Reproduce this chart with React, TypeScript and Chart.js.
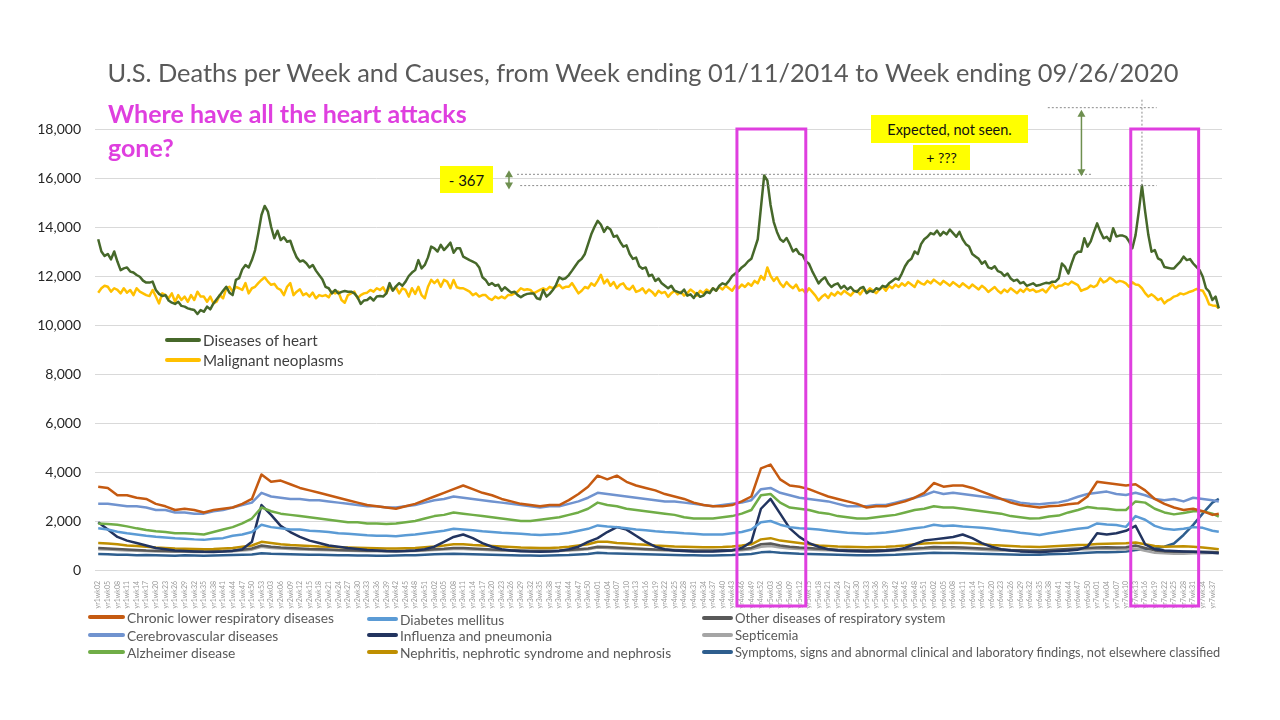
import React, { useEffect, useRef } from 'react';
import { Chart, registerables } from 'chart.js';

Chart.register(...registerables);

// ---------- tick labels (one every 3 weeks, MMWR weeks; yr1 = 2014 ... yr7 = 2020) ----------
const YEAR_WEEKS = [53, 52, 52, 52, 52, 52, 53];
const TICK_LABELS: string[] = [];
{
  let yr = 0;
  let wk = 2;
  for (let i = 0; i < 117; i++) {
    TICK_LABELS.push(`yr${yr + 1}wk${String(wk).padStart(2, '0')}`);
    wk += 3;
    while (yr < YEAR_WEEKS.length && wk > YEAR_WEEKS[yr]) {
      wk -= YEAR_WEEKS[yr];
      yr++;
    }
  }
}
const TICK_WEEKS = TICK_LABELS.map((_, i) => i * 3);

// ---------- weekly series (week index 0 = week ending 01/11/2014) ----------
const HEART = [
  13500, 13000, 12820, 12900, 12680, 13000, 12590, 12240, 12310, 12350,
  12180, 12140, 12040, 11970, 11810, 11730, 11730, 11770, 11430, 11270,
  11180, 11220, 11000, 10910, 10860, 10950, 10780, 10750, 10680, 10640,
  10610, 10450, 10610, 10540, 10750, 10640, 10880, 11050, 11220, 11400,
  11560, 11320, 11220, 11840, 11910, 12270, 12450, 12350, 12650, 13060,
  13740, 14490, 14860, 14630, 14010, 13540, 13850, 13470, 13580, 13400,
  13440, 13060, 12760, 12590, 12630, 12520, 12350, 12450, 12220, 12040,
  11870, 11560, 11500, 11290, 11430, 11290, 11350, 11390, 11360, 11360,
  11290, 11130, 10860, 11000, 11020, 11130, 11000, 11160, 11180, 11160,
  11290, 11710, 11400, 11580, 11710, 11600, 11770, 12000, 12140, 12240,
  12650, 12310, 12450, 12760, 13200, 13130, 13000, 13270, 13060, 13200,
  13360, 12950, 13130, 13130, 12790, 12720, 12650, 12590, 12520, 12350,
  11950, 11840, 11640, 11710, 11600, 11640, 11400, 11540, 11430, 11320,
  11360, 11220, 11130, 11220, 11270, 11290, 11290, 11090, 11050, 11430,
  11160, 11270, 11430, 11640, 11950, 11870, 11910, 12040, 12220, 12410,
  12590, 12700, 12900, 13300, 13700, 14000, 14250, 14100, 13800, 14000,
  13900, 13600, 13650, 13400, 13200, 13250, 12900, 12700, 12750, 12400,
  12300, 12350, 12000, 12050, 11800, 11900, 11700, 11600, 11500, 11600,
  11400, 11350, 11300, 11450, 11200, 11250, 11100, 11300, 11150, 11200,
  11350, 11300, 11500, 11400, 11600, 11700, 11650, 11800, 12000, 12100,
  12200, 12350, 12450, 12600, 12700, 13100, 13500, 14800, 16100, 15900,
  14900, 14200, 13800, 13500, 13400, 13550, 13300, 13000, 13100, 12900,
  12850, 12600, 12500, 12200, 11950, 11700, 11850, 11950, 11700, 11550,
  11650, 11700, 11500, 11600, 11450, 11550, 11400, 11350, 11500, 11550,
  11300, 11400, 11350, 11500, 11450, 11600, 11550, 11700, 11800, 11900,
  11850, 12100, 12400, 12600, 12700, 13000, 12900, 13300, 13500, 13600,
  13750, 13700, 13850, 13650, 13800, 13700, 13900, 13750, 13600, 13800,
  13500, 13300, 13200, 12900, 12800, 12700, 12500, 12600, 12350, 12300,
  12400, 12200, 12150, 12000, 12100, 11900, 11800, 11850, 11700, 11750,
  11600, 11650, 11700, 11600, 11630, 11680, 11720, 11700, 11770, 11770,
  11900, 12510, 12370, 12100, 12500, 12860, 12990, 12990, 13540, 13200,
  13410, 13800, 14150, 13810, 13540, 13600, 13430, 13950, 13610, 13650,
  13650, 13600, 13410, 13130, 13670, 14630, 15690, 14630, 13670, 12990,
  13060, 12720, 12650, 12370, 12340, 12310, 12310, 12450, 12590, 12790,
  12650, 12690, 12510, 12370, 12240, 11970, 11500, 11360, 11020, 11160,
  10680,
];

const NEOPLASMS = [
  11320, 11500, 11600, 11560, 11360, 11500, 11430, 11290, 11500, 11320,
  11430, 11220, 11500, 11360, 11290, 11220, 11180, 11430, 11160, 10880,
  11290, 11220, 11090, 11290, 10950, 11220, 11020, 11160, 10950, 11220,
  11020, 11360, 11160, 11160, 10950, 11160, 10880, 10950, 11220, 11090,
  11500, 11560, 11360, 11560, 11500, 11430, 11710, 11290, 11500, 11560,
  11710, 11840, 11950, 11770, 11640, 11680, 11500, 11430, 11220, 11560,
  11710, 11220, 11360, 11460, 11220, 11290, 11160, 11320, 11090, 11220,
  11180, 11220, 11130, 11360, 11290, 11360, 11020, 10910, 11220, 11290,
  11360, 11090, 11220, 11290, 11320, 11430, 11360, 11500, 11430, 11540,
  11290, 11560, 11430, 11540, 11290, 11500, 11430, 11160, 11500, 11270,
  11560, 11220, 11090, 11560, 11840, 11710, 11840, 11560, 11840, 11770,
  11500, 11840, 11540, 11500, 11500, 11430, 11360, 11220, 11290, 11160,
  11220, 11220, 11090, 11020, 11160, 11090, 11160, 11090, 11220, 11220,
  11290, 11360, 11500, 11430, 11460, 11430, 11290, 11360, 11430, 11500,
  11430, 11560, 11500, 11560, 11640, 11500, 11560, 11560, 11710, 11500,
  11290, 11400, 11550, 11500, 11700, 11600, 11800, 12050, 11700, 11850,
  11600, 11750, 11500, 11650, 11700, 11500, 11450, 11600, 11350, 11400,
  11500, 11300, 11450, 11350, 11200, 11400, 11300, 11350, 11150, 11300,
  11400, 11250, 11350, 11200, 11300, 11450, 11350, 11200, 11400, 11300,
  11450, 11350, 11500, 11400, 11550, 11450, 11600, 11500, 11400, 11600,
  11500, 11650, 11550, 11700, 11600, 11800, 11700, 12000, 11850, 12350,
  12000, 11800, 11950, 11700, 11550, 11750, 11600, 11500, 11650, 11400,
  11450, 11300, 11500, 11350, 11200, 11000, 11150, 11250, 11100, 11300,
  11200, 11350, 11250, 11400, 11300, 11200, 11350, 11400, 11250, 11450,
  11350, 11500, 11400, 11300, 11450, 11550, 11400, 11600, 11500, 11650,
  11550, 11700, 11600, 11750, 11650, 11550, 11800, 11700, 11650, 11800,
  11700, 11850, 11750, 11650, 11800, 11700, 11600, 11750, 11650, 11550,
  11700, 11600, 11500, 11650, 11550, 11450, 11600, 11500, 11350, 11450,
  11550, 11400, 11300, 11450, 11350, 11500, 11400, 11300, 11450, 11350,
  11500, 11400, 11450, 11350, 11390, 11450, 11330, 11500, 11660, 11500,
  11600, 11610, 11700, 11650, 11770, 11700, 11630, 11390, 11450, 11500,
  11610, 11550, 11630, 11900, 11740, 11800, 11930, 11850, 11740, 11800,
  11770, 11700, 11560, 11740, 11650, 11630, 11500, 11300, 11160, 11250,
  11150, 11020, 11090, 10880, 11000, 11060, 11160, 11200, 11290, 11250,
  11300, 11360, 11400, 11470, 11430, 11400, 11160, 10840, 10800, 10790,
  10680,
];

// ---------- 3-weekly series (at the tick weeks, plus the last week) ----------
const CLRD = [
  3400, 3350, 3050, 3050, 2950, 2900, 2700, 2600, 2450, 2500,
  2450, 2350, 2450, 2500, 2550, 2700, 2900, 3900, 3600, 3650,
  3500, 3350, 3250, 3150, 3050, 2950, 2850, 2750, 2650, 2600,
  2550, 2500, 2600, 2700, 2850, 3000, 3150, 3300, 3450, 3300,
  3150, 3050, 2900, 2800, 2700, 2650, 2600, 2650, 2650, 2850,
  3100, 3400, 3850, 3700, 3850, 3600, 3450, 3350, 3250, 3100,
  3000, 2900, 2750, 2650, 2600, 2600, 2650, 2800, 3000, 4150,
  4300, 3700, 3450, 3400, 3300, 3150, 3000, 2900, 2800, 2700,
  2550, 2600, 2600, 2700, 2800, 2950, 3150, 3550, 3400, 3450,
  3450, 3350, 3200, 3050, 2900, 2750, 2650, 2600, 2550, 2600,
  2620, 2680, 2720, 3000, 3600, 3550, 3500, 3450, 3500, 3250,
  2900, 2700, 2550, 2450, 2500, 2400, 2250, 2300,
];
const CEREBROVASCULAR = [
  2700, 2700, 2650, 2600, 2600, 2550, 2450, 2450, 2350, 2350,
  2300, 2300, 2400, 2450, 2550, 2650, 2750, 3150, 3000, 2950,
  2900, 2900, 2850, 2850, 2800, 2750, 2700, 2650, 2600, 2600,
  2550, 2550, 2600, 2650, 2750, 2850, 2900, 3000, 2950, 2900,
  2850, 2800, 2750, 2700, 2650, 2600, 2550, 2600, 2600, 2700,
  2800, 2950, 3150, 3100, 3050, 3000, 2950, 2900, 2850, 2800,
  2800, 2750, 2700, 2650, 2600, 2650, 2700, 2750, 2850, 3300,
  3350, 3150, 3050, 2950, 2900, 2850, 2800, 2700, 2600, 2600,
  2600, 2650, 2650, 2750, 2850, 2950, 3050, 3200, 3100, 3150,
  3100, 3050, 3000, 2950, 2900, 2850, 2750, 2700, 2680, 2720,
  2760, 2850, 2990, 3100, 3150, 3200, 3100, 3060, 3150, 3050,
  2900, 2850, 2900, 2800, 2950, 2900, 2850, 2800,
];
const ALZHEIMER = [
  1900, 1880, 1850, 1780, 1700, 1630, 1580, 1550, 1500, 1500,
  1480, 1450, 1550, 1650, 1750, 1900, 2100, 2550, 2400, 2300,
  2250, 2200, 2150, 2100, 2050, 2000, 1950, 1950, 1900, 1900,
  1880, 1900, 1950, 2000, 2100, 2200, 2250, 2350, 2300, 2250,
  2200, 2150, 2100, 2050, 2000, 2000, 2050, 2100, 2150, 2250,
  2350, 2500, 2750, 2650, 2600, 2500, 2450, 2400, 2350, 2300,
  2250, 2150, 2100, 2100, 2100, 2150, 2200, 2300, 2450, 3050,
  3100, 2750, 2550, 2500, 2450, 2350, 2300, 2200, 2150, 2100,
  2100, 2150, 2200, 2250, 2350, 2450, 2500, 2600, 2550, 2550,
  2500, 2450, 2400, 2350, 2300, 2200, 2150, 2100, 2110, 2180,
  2220, 2350, 2450, 2570, 2520, 2500, 2450, 2450, 2800, 2750,
  2500, 2350, 2270, 2330, 2400, 2400, 2300, 2180,
];
const DIABETES = [
  1700, 1650, 1560, 1500, 1450, 1400, 1360, 1330, 1300, 1280,
  1250, 1230, 1280, 1300, 1400, 1450, 1550, 1850, 1750, 1700,
  1650, 1650, 1600, 1580, 1550, 1500, 1480, 1450, 1420, 1400,
  1400, 1380, 1420, 1450, 1500, 1550, 1600, 1680, 1650, 1620,
  1580, 1550, 1520, 1500, 1480, 1450, 1430, 1450, 1470, 1520,
  1600, 1680, 1820, 1780, 1750, 1700, 1650, 1620, 1580, 1550,
  1530, 1500, 1480, 1450, 1450, 1450, 1500, 1550, 1650, 1950,
  2000, 1850, 1750, 1700, 1680, 1650, 1600, 1560, 1520, 1500,
  1480, 1500, 1530, 1580, 1640, 1700, 1750, 1850, 1800, 1820,
  1780, 1750, 1720, 1680, 1620, 1580, 1520, 1480, 1430, 1500,
  1560, 1620, 1680, 1720, 1900, 1860, 1840, 1760, 2200, 2050,
  1800, 1680, 1640, 1680, 1750, 1720, 1600, 1560,
];
const FLU_PNEUMONIA = [
  1950, 1650, 1350, 1200, 1100, 1000, 900, 850, 800, 780,
  760, 740, 730, 750, 780, 850, 1150, 2650, 2250, 1800,
  1550, 1350, 1200, 1100, 1000, 950, 900, 860, 820, 800,
  780, 770, 780, 800, 850, 950, 1150, 1350, 1450, 1300,
  1100, 950, 850, 800, 770, 750, 740, 750, 780, 850,
  950, 1150, 1300, 1550, 1750, 1650, 1400, 1150, 950, 850,
  800, 780, 760, 750, 760, 780, 800, 900, 1150, 2500,
  2900, 2300, 1700, 1350, 1100, 950, 850, 800, 780, 770,
  760, 770, 790, 820, 900, 1050, 1200, 1250, 1300, 1350,
  1450, 1300, 1100, 950, 850, 800, 760, 740, 720, 750,
  780, 800, 830, 950, 1500, 1450, 1500, 1600, 1800, 1050,
  850, 800, 780, 760, 740, 720, 700, 680,
];
const NEPHRITIS = [
  1100, 1080, 1050, 1000, 980, 950, 920, 900, 880, 870,
  860, 850, 860, 880, 900, 950, 1000, 1150, 1100, 1050,
  1020, 1000, 980, 960, 950, 930, 920, 910, 900, 890,
  880, 880, 890, 900, 930, 960, 1000, 1050, 1050, 1020,
  1000, 980, 960, 940, 920, 910, 900, 900, 920, 950,
  1000, 1050, 1150, 1150, 1100, 1080, 1050, 1030, 1000, 980,
  960, 950, 940, 930, 930, 940, 960, 1000, 1050, 1250,
  1300, 1200, 1150, 1100, 1050, 1000, 980, 960, 950, 940,
  930, 940, 950, 970, 1000, 1050, 1080, 1100, 1100, 1110,
  1100, 1080, 1050, 1020, 1000, 980, 960, 950, 940, 960,
  980, 1000, 1020, 1030, 1060, 1070, 1080, 1090, 1120, 1050,
  980, 950, 960, 970, 950, 920, 880, 850,
];
const OTHER_RESPIRATORY = [
  900, 880, 860, 840, 820, 800, 790, 780, 770, 770,
  760, 760, 770, 780, 800, 830, 880, 1000, 950, 920,
  900, 880, 860, 850, 840, 820, 810, 800, 790, 790,
  780, 780, 790, 800, 820, 850, 870, 900, 900, 880,
  860, 840, 820, 810, 800, 790, 790, 790, 800, 820,
  850, 880, 950, 940, 920, 900, 880, 860, 840, 830,
  820, 810, 800, 800, 800, 810, 820, 850, 900, 1050,
  1080, 1000, 950, 920, 900, 870, 850, 830, 820, 810,
  800, 810, 820, 840, 860, 890, 910, 940, 930, 930,
  920, 900, 880, 860, 840, 820, 810, 800, 800, 820,
  840, 860, 880, 900, 920, 930, 920, 930, 1000, 900,
  800, 760, 740, 740, 750, 740, 730, 720,
];
const SEPTICEMIA = [
  850, 840, 820, 800, 790, 780, 760, 750, 740, 740,
  730, 730, 740, 750, 770, 800, 830, 950, 900, 880,
  860, 840, 830, 820, 810, 800, 790, 780, 770, 770,
  760, 760, 770, 780, 800, 820, 840, 860, 860, 840,
  830, 810, 800, 790, 780, 770, 770, 770, 780, 800,
  820, 850, 920, 900, 880, 860, 850, 830, 820, 800,
  790, 780, 770, 770, 770, 780, 790, 810, 850, 950,
  980, 920, 880, 860, 840, 820, 810, 790, 780, 770,
  760, 770, 780, 800, 820, 840, 860, 880, 870, 870,
  860, 850, 830, 810, 800, 790, 780, 770, 770, 780,
  800, 820, 840, 850, 860, 860, 850, 850, 880, 780,
  700, 680, 660, 660, 680, 680, 690, 690,
];
const SYMPTOMS = [
  650, 640, 620, 620, 600, 610, 600, 590, 580, 600,
  590, 580, 590, 600, 610, 620, 630, 680, 660, 650,
  640, 630, 620, 620, 610, 600, 600, 590, 590, 580,
  580, 590, 600, 600, 620, 640, 650, 660, 650, 640,
  630, 620, 610, 600, 590, 590, 580, 590, 600, 610,
  630, 650, 700, 680, 670, 660, 650, 640, 630, 620,
  610, 600, 600, 590, 590, 600, 610, 630, 650, 720,
  740, 700, 680, 660, 650, 640, 630, 620, 610, 600,
  600, 600, 610, 620, 640, 660, 680, 700, 690, 690,
  680, 670, 660, 650, 640, 630, 620, 620, 620, 640,
  650, 660, 680, 700, 720, 720, 730, 750, 820, 850,
  880, 950, 1080, 1430, 1840, 2310, 2750, 2900,
];
const LAST_WEEK = HEART.length - 1;
const LOW_RES_WEEKS = [...TICK_WEEKS, LAST_WEEK];

// ---------- annotation anchors (weeks / values) ----------
const PEAK_2018 = 16150;
const PEAK_2020 = 15690;
const EXPECTED = 18870;
const BOX1 = [199.5, 221];
const BOX2 = [322.5, 343.7];

const MAGENTA = '#DF3FDF';
const ARROW_GREEN = '#6E8F4F';
const FONT = 'Lato, "Open Sans", sans-serif';

type SeriesDef = { label: string; color: string; data: number[]; weekly?: boolean; width?: number };

const SERIES: SeriesDef[] = [
  { label: 'Diseases of heart', color: '#46682A', data: HEART, weekly: true, width: 2.5 },
  { label: 'Malignant neoplasms', color: '#FFC000', data: NEOPLASMS, weekly: true, width: 2.5 },
  { label: 'Chronic lower respiratory diseases', color: '#C55A11', data: CLRD },
  { label: 'Cerebrovascular diseases', color: '#7093CF', data: CEREBROVASCULAR },
  { label: 'Alzheimer disease', color: '#70AD47', data: ALZHEIMER },
  { label: 'Diabetes mellitus', color: '#5B9BD5', data: DIABETES },
  { label: 'Influenza and pneumonia', color: '#22345F', data: FLU_PNEUMONIA },
  { label: 'Nephritis, nephrotic syndrome and nephrosis', color: '#BF8F00', data: NEPHRITIS },
  { label: 'Other diseases of respiratory system', color: '#595959', data: OTHER_RESPIRATORY },
  { label: 'Septicemia', color: '#A5A5A5', data: SEPTICEMIA },
  { label: 'Symptoms, signs and abnormal clinical and laboratory findings, not elsewhere classified', color: '#2E5E8E', data: SYMPTOMS },
];

const overlayPlugin = {
  id: 'overlayAnnotations',
  afterDraw(chart: any) {
    const { ctx, chartArea } = chart;
    const xs = chart.scales.x;
    const ys = chart.scales.y;
    const px = (w: number) => xs.getPixelForValue(w);
    const py = (v: number) => ys.getPixelForValue(v);
    const seg = (x1: number, y1: number, x2: number, y2: number) => {
      ctx.beginPath();
      ctx.moveTo(x1, y1);
      ctx.lineTo(x2, y2);
      ctx.stroke();
    };
    ctx.save();
    // dotted guide lines
    ctx.strokeStyle = '#8c8c8c';
    ctx.lineWidth = 1;
    ctx.setLineDash([2, 2]);
    seg(px(130.8), py(PEAK_2018), px(310.6), py(PEAK_2018));
    seg(px(131.8), py(PEAK_2020), px(330.6), py(PEAK_2020));
    seg(px(296.6), py(EXPECTED), px(330.6), py(EXPECTED));
    seg(px(326), py(EXPECTED) - 8, px(326), py(PEAK_2020));
    ctx.setLineDash([]);

    // double arrows
    const arrow = (x: number, yTop: number, yBot: number) => {
      ctx.strokeStyle = ARROW_GREEN;
      ctx.fillStyle = ARROW_GREEN;
      ctx.lineWidth = 1.5;
      seg(x, yTop + 5, x, yBot - 5);
      ctx.beginPath();
      ctx.moveTo(x, yTop);
      ctx.lineTo(x - 4, yTop + 7);
      ctx.lineTo(x + 4, yTop + 7);
      ctx.closePath();
      ctx.fill();
      ctx.beginPath();
      ctx.moveTo(x, yBot);
      ctx.lineTo(x - 4, yBot - 7);
      ctx.lineTo(x + 4, yBot - 7);
      ctx.closePath();
      ctx.fill();
    };
    arrow(px(128.3), py(PEAK_2018) - 4, py(PEAK_2020) + 4);
    arrow(px(307.1), py(EXPECTED) + 2, py(PEAK_2018) + 2);

    // magenta highlight boxes
    ctx.strokeStyle = MAGENTA;
    ctx.lineWidth = 3;
    const top = py(18000);
    const bottom = chartArea.bottom + 36;
    for (const [a, b] of [BOX1, BOX2]) {
      ctx.strokeRect(px(a), top, px(b) - px(a), bottom - top);
    }
    ctx.restore();
  },
};

function LegendItem({ x, y, color, label, swatch, textColor, size }: { x: number; y: number; color: string; label: string; swatch: number; textColor: string; size: number }) {
  return (
    <div style={{ position: 'absolute', left: x, top: y - 10, height: 20, display: 'flex', alignItems: 'center', whiteSpace: 'nowrap' }}>
      <span style={{ display: 'inline-block', width: swatch, height: 4, borderRadius: 2, background: color, marginRight: 2 }} />
      <span style={{ fontSize: size, color: textColor, fontFamily: FONT }}>{label}</span>
    </div>
  );
}

function YellowBox({ x, y, w, h, text, size }: { x: number; y: number; w: number; h: number; text: string; size: number }) {
  return (
    <div style={{ position: 'absolute', left: x, top: y, width: w, height: h, background: '#FFFF00', display: 'flex', alignItems: 'center', justifyContent: 'center', fontFamily: FONT, fontSize: size, color: '#111', whiteSpace: 'nowrap' }}>
      {text}
    </div>
  );
}

export default function App() {
  const canvasRef = useRef<HTMLCanvasElement | null>(null);

  useEffect(() => {
    if (!canvasRef.current) return;
    const datasets = SERIES.map((s) => ({
      label: s.label,
      data: s.data.map((v, i) => ({ x: s.weekly ? i : LOW_RES_WEEKS[i], y: v })),
      borderColor: s.color,
      backgroundColor: s.color,
      borderWidth: s.width ?? 2.5,
      pointRadius: 0,
      tension: 0,
      borderJoinStyle: 'round' as const,
      fill: false,
    }));
    const chart = new Chart(canvasRef.current, {
      type: 'line',
      data: { datasets },
      options: {
        responsive: false,
        animation: false,
        devicePixelRatio: 1,
        parsing: false as any,
        normalized: true,
        layout: { padding: { left: 0, top: 129, right: 58, bottom: 0 } },
        plugins: { legend: { display: false }, tooltip: { enabled: false }, title: { display: false } },
        scales: {
          x: {
            type: 'linear',
            min: -1,
            max: LAST_WEEK + 1,
            grid: { display: false },
            border: { display: true, color: '#d9d9d9' },
            afterBuildTicks: (scale: any) => {
              scale.ticks = TICK_WEEKS.map((v) => ({ value: v }));
            },
            afterFit: (scale: any) => {
              scale.height = 150;
            },
            ticks: {
              autoSkip: false,
              minRotation: 90,
              maxRotation: 90,
              padding: 3,
              color: '#9a9a9a',
              font: { family: FONT, size: 7 },
              callback: (_v: any, i: number) => TICK_LABELS[i],
            },
          },
          y: {
            min: 0,
            max: 18000,
            grid: { color: '#d9d9d9', drawTicks: false },
            border: { display: false },
            afterFit: (scale: any) => {
              scale.width = 95;
            },
            ticks: {
              stepSize: 2000,
              padding: 14,
              color: '#262626',
              font: { family: FONT, size: 14 },
              callback: (v: any) => Number(v).toLocaleString('en-US'),
            },
          },
        },
      },
      plugins: [overlayPlugin],
    } as any);
    return () => chart.destroy();
  }, []);

  const bottomLegend = [
    { x: 88, y: 617, sw: 37, i: 2, size: 13.8 },
    { x: 88, y: 635, sw: 37, i: 3, size: 13.8 },
    { x: 88, y: 652, sw: 37, i: 4, size: 13.8 },
    { x: 367, y: 619, sw: 31, i: 5, size: 13.8 },
    { x: 367, y: 635, sw: 31, i: 6, size: 13.8 },
    { x: 367, y: 652, sw: 31, i: 7, size: 13.8 },
    { x: 702, y: 618, sw: 31, i: 8, size: 13.2 },
    { x: 702, y: 635, sw: 31, i: 9, size: 13.2 },
    { x: 702, y: 652, sw: 31, i: 10, size: 12.8 },
  ];

  return (
    <div style={{ position: 'fixed', left: 0, top: 0, width: 1280, height: 720, background: '#ffffff', overflow: 'hidden', fontFamily: FONT }}>
      <canvas ref={canvasRef} width={1280} height={720} style={{ position: 'absolute', left: 0, top: 0, width: 1280, height: 720 }} />
      <div style={{ position: 'absolute', left: 0, top: 56, width: 1286, textAlign: 'center', fontSize: 25.4, lineHeight: '32px', color: '#595959', whiteSpace: 'nowrap' }}>
        U.S. Deaths per Week and Causes, from Week ending 01/11/2014 to Week ending 09/26/2020
      </div>
      <div style={{ position: 'absolute', left: 108, top: 96, fontSize: 25, lineHeight: '34px', fontWeight: 700, color: MAGENTA, width: 420 }}>
        Where have all the heart attacks<br />gone?
      </div>
      <YellowBox x={440} y={166} w={53} h={27} text="- 367" size={15} />
      <YellowBox x={871} y={115} w={157} h={28} text="Expected, not seen." size={14.5} />
      <YellowBox x={913} y={145} w={57} h={25} text="+ ???" size={14} />
      <LegendItem x={165} y={340} color={SERIES[0].color} label={SERIES[0].label} swatch={36} textColor="#404040" size={15.2} />
      <LegendItem x={165} y={360} color={SERIES[1].color} label={SERIES[1].label} swatch={36} textColor="#404040" size={15.2} />
      {bottomLegend.map((b) => (
        <LegendItem key={b.i} x={b.x} y={b.y} color={SERIES[b.i].color} label={SERIES[b.i].label} swatch={b.sw} textColor="#595959" size={b.size} />
      ))}
    </div>
  );
}
